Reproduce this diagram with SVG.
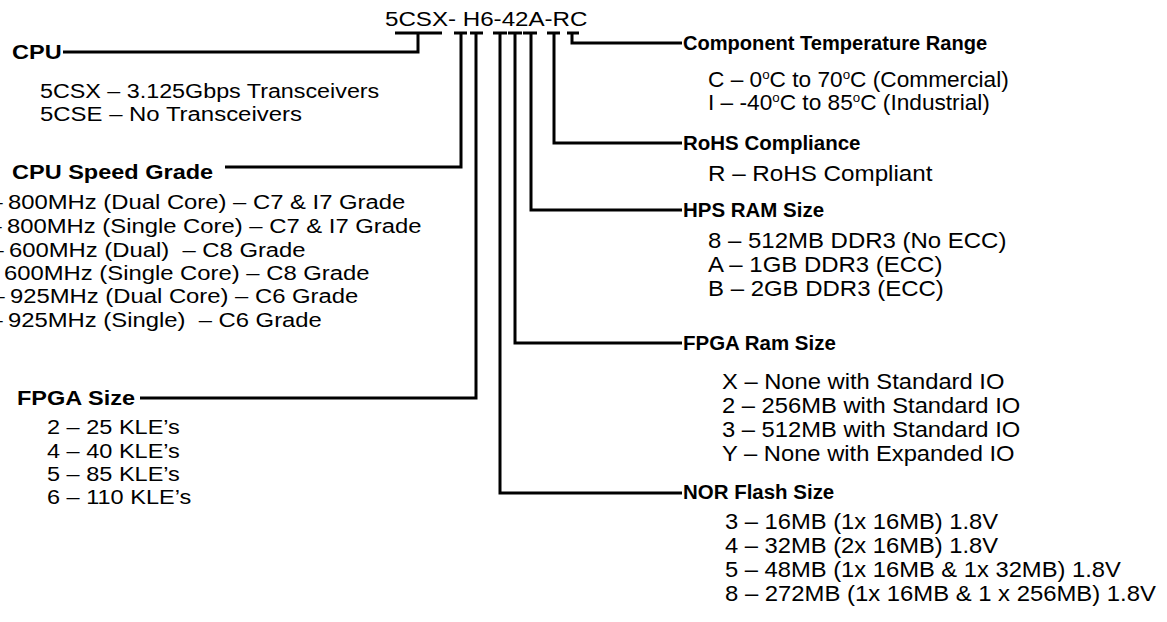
<svg xmlns="http://www.w3.org/2000/svg" width="1167" height="622" viewBox="0 0 1167 622">
<style>
text{font-family:"Liberation Sans",Arial,sans-serif;fill:#000;white-space:pre}
.t{font-size:21px}
.h{font-size:21px;font-weight:bold}
.hr{font-size:19.5px;font-weight:bold}
.r{font-size:22px}
.w{fill:none;stroke:#000;stroke-width:3;stroke-linejoin:miter;stroke-linecap:butt}
</style>
<rect width="1167" height="622" fill="#fff"/>
<g id="part-number"><text class="t" transform="matrix(1.15,0,0,1,385,0)" x="0" y="26">5CSX- H6-42A-RC</text></g>
<g id="connectors">
<path class="w" d="M395,33H442M418,33V52H63"/>
<path class="w" d="M454,33H467M461,33V167H225"/>
<path class="w" d="M470,33H483M476,33V398H140"/>
<path class="w" d="M493,33H507M500,33V493H682"/>
<path class="w" d="M508,33H522M515,33V343H682"/>
<path class="w" d="M523,33H537M531,33V210H682"/>
<path class="w" d="M547,33H560M554,33V143H682"/>
<path class="w" d="M567,33H579M572,33V43H682"/>
</g>
<g id="cpu">
<text class="h" transform="matrix(1.12,0,0,1,12,0)" x="0" y="59">CPU</text>
<text class="t" transform="matrix(1.11,0,0,1,40,0)" x="0" y="98">5CSX – 3.125Gbps Transceivers</text>
<text class="t" transform="matrix(1.14,0,0,1,40,0)" x="0" y="121">5CSE – No Transceivers</text>
</g>
<g id="cpu-speed">
<text class="h" transform="matrix(1.12,0,0,1,12,0)" x="0" y="179">CPU Speed Grade</text>
<text class="t" x="-9" y="209">–</text>
<text class="t" transform="matrix(1.135,0,0,1,8,0)" x="0" y="209">800MHz (Dual Core) – C7 &amp; I7 Grade</text>
<text class="t" x="-10" y="233">–</text>
<text class="t" transform="matrix(1.135,0,0,1,7,0)" x="0" y="233">800MHz (Single Core) – C7 &amp; I7 Grade</text>
<text class="t" x="-8" y="257">–</text>
<text class="t" transform="matrix(1.135,0,0,1,9,0)" x="0" y="257">600MHz (Dual)  – C8 Grade</text>
<text class="t" transform="matrix(1.135,0,0,1,4,0)" x="0" y="280">600MHz (Single Core) – C8 Grade</text>
<text class="t" x="-7" y="303">–</text>
<text class="t" transform="matrix(1.135,0,0,1,10,0)" x="0" y="303">925MHz (Dual Core) – C6 Grade</text>
<text class="t" x="-9" y="327">–</text>
<text class="t" transform="matrix(1.135,0,0,1,8,0)" x="0" y="327">925MHz (Single)  – C6 Grade</text>
</g>
<g id="fpga-size">
<text class="h" transform="matrix(1.12,0,0,1,17,0)" x="0" y="405">FPGA Size</text>
<text class="t" transform="matrix(1.12,0,0,1,47,0)" x="0" y="434">2 – 25 KLE’s</text>
<text class="t" transform="matrix(1.12,0,0,1,47,0)" x="0" y="458">4 – 40 KLE’s</text>
<text class="t" transform="matrix(1.12,0,0,1,47,0)" x="0" y="481">5 – 85 KLE’s</text>
<text class="t" transform="matrix(1.12,0,0,1,47,0)" x="0" y="504">6 – 110 KLE’s</text>
</g>
<g id="temp">
<text class="hr" transform="matrix(1.03,0,0,1,683,0)" x="0" y="50">Component Temperature Range</text>
<text class="r" transform="matrix(1.03,0,0,1,708,0)" x="0" y="87">C – 0<tspan font-size="13" dy="-8">o</tspan><tspan dy="8">C to 70</tspan><tspan font-size="13" dy="-8">o</tspan><tspan dy="8">C (Commercial)</tspan></text>
<text class="r" transform="matrix(1.03,0,0,1,708,0)" x="0" y="110">I – -40<tspan font-size="13" dy="-8">o</tspan><tspan dy="8">C to 85</tspan><tspan font-size="13" dy="-8">o</tspan><tspan dy="8">C (Industrial)</tspan></text>
</g>
<g id="rohs">
<text class="hr" transform="matrix(1.05,0,0,1,683,0)" x="0" y="150">RoHS Compliance</text>
<text class="r" transform="matrix(1.1,0,0,1,708,0)" x="0" y="181">R – RoHS Compliant</text>
</g>
<g id="hps-ram">
<text class="hr" transform="matrix(1.05,0,0,1,683,0)" x="0" y="217">HPS RAM Size</text>
<text class="r" transform="matrix(1.09,0,0,1,708,0)" x="0" y="248">8 – 512MB DDR3 (No ECC)</text>
<text class="r" transform="matrix(1.09,0,0,1,708,0)" x="0" y="272">A – 1GB DDR3 (ECC)</text>
<text class="r" transform="matrix(1.09,0,0,1,708,0)" x="0" y="296">B – 2GB DDR3 (ECC)</text>
</g>
<g id="fpga-ram">
<text class="hr" transform="matrix(1.05,0,0,1,683,0)" x="0" y="350">FPGA Ram Size</text>
<text class="r" transform="matrix(1.08,0,0,1,722,0)" x="0" y="389">X – None with Standard IO</text>
<text class="r" transform="matrix(1.08,0,0,1,722,0)" x="0" y="413">2 – 256MB with Standard IO</text>
<text class="r" transform="matrix(1.08,0,0,1,722,0)" x="0" y="437">3 – 512MB with Standard IO</text>
<text class="r" transform="matrix(1.08,0,0,1,722,0)" x="0" y="461">Y – None with Expanded IO</text>
</g>
<g id="nor-flash">
<text class="hr" transform="matrix(1.05,0,0,1,683,0)" x="0" y="499">NOR Flash Size</text>
<text class="r" transform="matrix(1.08,0,0,1,725,0)" x="0" y="529">3 – 16MB (1x 16MB) 1.8V</text>
<text class="r" transform="matrix(1.08,0,0,1,725,0)" x="0" y="553">4 – 32MB (2x 16MB) 1.8V</text>
<text class="r" transform="matrix(1.08,0,0,1,725,0)" x="0" y="577">5 – 48MB (1x 16MB &amp; 1x 32MB) 1.8V</text>
<text class="r" transform="matrix(1.085,0,0,1,725,0)" x="0" y="601">8 – 272MB (1x 16MB &amp; 1 x 256MB) 1.8V</text>
</g>
</svg>
